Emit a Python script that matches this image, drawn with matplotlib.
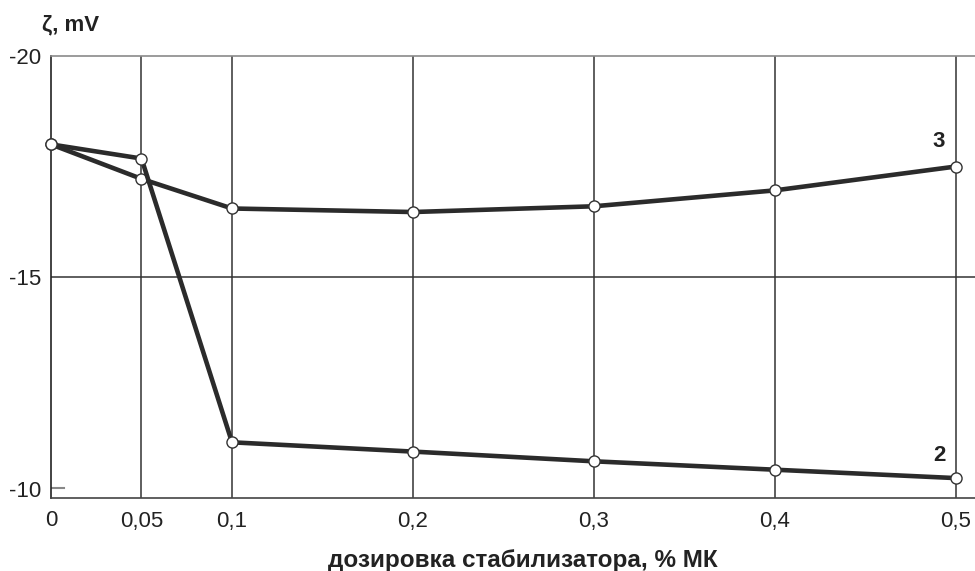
import matplotlib
matplotlib.use("Agg")
import matplotlib.pyplot as plt
import matplotlib.transforms as mtransforms

plt.rcParams['font.family'] = ['Liberation Sans', 'DejaVu Sans']

# дозировка стабилизатора, % МК
doza = [0, 0.05, 0.1, 0.2, 0.3, 0.4, 0.5]
# дзета-потенциал, mV
zeta_3 = [-18.0, -17.22, -16.55, -16.47, -16.60, -16.96, -17.50]
zeta_2 = [-18.0, -17.68, -11.26, -11.05, -10.83, -10.64, -10.45]

xticks = [0, 0.05, 0.1, 0.2, 0.3, 0.4, 0.5]
xtick_labels = ["0", "0,05", "0,1", "0,2", "0,3", "0,4", "0,5"]
yticks = [-20, -15, -10]
ytick_labels = ["-20", "-15", "-10"]

W, H = 975, 571
fig = plt.figure(figsize=(W / 100, H / 100), dpi=100)
ax = fig.add_axes([51 / W, 1 - 498 / H, (975 - 51) / W, (498 - 56) / H])

ax.set_xlim(0, 0.5105)
ax.set_ylim(-10, -20)

# сетка
for x in xticks[1:]:
    ax.axvline(x, color="#333333", lw=1.1, zorder=1)
ax.axhline(-15, color="#333333", lw=1.1, zorder=1)

line_kw = dict(color="#2b2b2b", lw=3.3, marker="o", markersize=8,
               markerfacecolor="white", markeredgecolor="#333333",
               markeredgewidth=1.0, clip_on=False, zorder=3)
ax.plot(doza, zeta_3, **line_kw)
ax.plot(doza, zeta_2, **line_kw)

ax.text(0.494, zeta_3[-1] - 0.32, "3", fontsize=16, fontweight="bold",
        ha="right", va="bottom", color="#222222")
ax.text(0.494, zeta_2[-1] - 0.27, "2", fontsize=16, fontweight="bold",
        ha="right", va="bottom", color="#222222")

ax.set_xticks(xticks)
ax.set_xticklabels(xtick_labels)
ax.set_yticks(yticks)
ax.set_yticklabels(ytick_labels)
ax.tick_params(length=0, labelsize=16, colors="#222222")
ax.tick_params(axis="x", pad=9)
ax.tick_params(axis="y", pad=7)

# подпись -10 чуть выше нижней границы
lbl = ax.get_yticklabels()[-1]
lbl.set_transform(lbl.get_transform() + mtransforms.ScaledTranslation(0, 9 / 100, fig.dpi_scale_trans))
ax.plot([0, 0.007], [-10.22, -10.22], color="#888888", lw=1.5, zorder=2)

ax.spines["right"].set_visible(False)
ax.spines["top"].set_color("#8a8a8a")
ax.spines["left"].set_color("#222222")
ax.spines["bottom"].set_color("#444444")
for s in ["top", "left", "bottom"]:
    ax.spines[s].set_linewidth(1.2)

fig.text(42 / W, 1 - 25 / H, "ζ, mV", fontsize=16, fontweight="bold",
         ha="left", va="center", color="#222222")
fig.text(523 / W, 1 - 561 / H, "дозировка стабилизатора, % МК", fontsize=17.5,
         fontweight="bold", ha="center", va="center", color="#222222")

fig.savefig("out.png", dpi=100)
